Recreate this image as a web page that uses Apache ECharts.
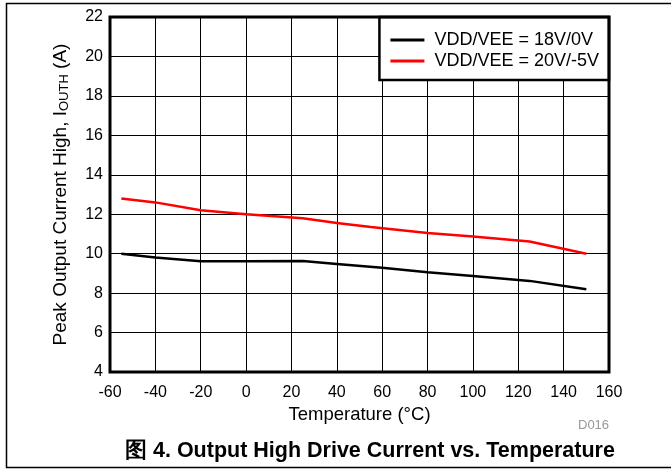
<!DOCTYPE html>
<html><head><meta charset="utf-8">
<script src="https://cdn.jsdelivr.net/npm/echarts@6/dist/echarts.min.js"></script>
<style>html,body{margin:0;padding:0;background:#fff}#c{width:671px;height:470px}</style>
</head><body><div id="c"></div>
<script>
const temps18 = [-55, -40, -20, 0, 25, 40, 60, 80, 100, 125, 150];
const iouth18 = [10.0, 9.8, 9.62, 9.62, 9.63, 9.48, 9.28, 9.06, 8.87, 8.62, 8.2];
const temps20 = [-55, -40, -20, 0, 25, 40, 55, 80, 100, 125, 150];
const iouth20 = [12.8, 12.6, 12.2, 12.0, 11.8, 11.55, 11.35, 11.05, 10.87, 10.62, 10.0];
const seriesNames = ['VDD/VEE = 18V/0V', 'VDD/VEE = 20V/-5V'];
const xTitle = 'Temperature (°C)';
const yTitle = 'Peak Output Current High, I{sub|OUTH} (A)';
const figTitle = '图 4. Output High Drive Current vs. Temperature';
const docId = 'D016';

const font = 'Liberation Sans, Arial, sans-serif';
const chart = echarts.init(document.getElementById('c'));
chart.setOption({
  animation: false,
  backgroundColor: '#fff',
  textStyle: {fontFamily: font},
  grid: {left: 110, right: 62, top: 17, bottom: 98, show: true, borderColor: '#000', borderWidth: 3, backgroundColor: 'transparent', z: 10},
  title: {text: figTitle, left: 120, top: 435, textStyle: {fontFamily: font, fontSize: 21.5, fontWeight: 'bold', color: '#000'}},
  legend: {
    right: 62, top: 17, orient: 'vertical', data: seriesNames, icon: 'rect',
    backgroundColor: '#fff', borderColor: '#000', borderWidth: 2.5,
    padding: [14, 10, 10, 11], itemGap: 3, itemWidth: 34, itemHeight: 3,
    textStyle: {fontFamily: font, fontSize: 18, color: '#000', padding: [0, 0, 0, 5], lineHeight: 18}
  },
  xAxis: {
    type: 'value', min: -60, max: 160, interval: 20,
    name: xTitle, nameLocation: 'middle', nameGap: 33,
    nameTextStyle: {fontFamily: font, fontSize: 18.5, color: '#000'},
    axisLine: {show: false}, axisTick: {show: false},
    axisLabel: {fontFamily: font, fontSize: 16, color: '#000', margin: 13},
    splitLine: {show: true, lineStyle: {color: '#000', width: 1}}
  },
  yAxis: {
    type: 'value', min: 4, max: 22, interval: 2,
    name: yTitle, nameLocation: 'middle', nameGap: 39,
    nameTextStyle: {fontFamily: font, fontSize: 19, color: '#000',
      rich: {sub: {fontFamily: font, fontSize: 13, color: '#000', padding: [7, 0, 0, 0]}}},
    axisLine: {show: false}, axisTick: {show: false},
    axisLabel: {fontFamily: font, fontSize: 16, color: '#000', margin: 7},
    splitLine: {show: true, lineStyle: {color: '#000', width: 1}}
  },
  series: [
    {name: seriesNames[0], type: 'line', symbol: 'none', data: temps18.map((t, i) => [t, iouth18[i]]), lineStyle: {color: '#000', width: 2.5}, itemStyle: {color: '#000'}, z: 3},
    {name: seriesNames[1], type: 'line', symbol: 'none', data: temps20.map((t, i) => [t, iouth20[i]]), lineStyle: {color: '#ff0000', width: 2.5}, itemStyle: {color: '#ff0000'}, z: 3}
  ],
  graphic: [
    {type: 'polyline', shape: {points: [[680, 3.5], [6.5, 3.5], [6.5, 467.5], [680, 467.5]]}, style: {stroke: '#000', lineWidth: 1.5, fill: null}, silent: true},
    {type: 'text', left: 578, top: 419, style: {text: docId, fontFamily: font, fontSize: 13, fill: '#999'}}
  ]
});
</script></body></html>
